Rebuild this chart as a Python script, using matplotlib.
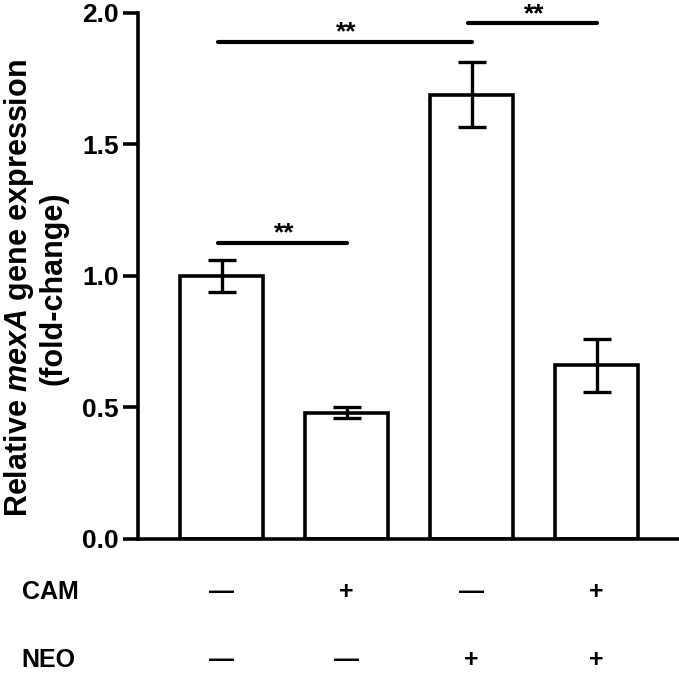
import matplotlib.pyplot as plt
import matplotlib.transforms as mtransforms

plt.rcParams['font.family'] = ['Liberation Sans', 'DejaVu Sans']
plt.rcParams['font.weight'] = 'bold'
plt.rcParams['mathtext.fontset'] = 'custom'
plt.rcParams['mathtext.rm'] = 'Liberation Sans:bold'
plt.rcParams['mathtext.bf'] = 'Liberation Sans:bold'
plt.rcParams['mathtext.it'] = 'Liberation Sans:italic:bold'

# data
means = [1.0, 0.48, 1.69, 0.66]
errs = [0.06, 0.02, 0.125, 0.10]
cam = ['—', '+', '—', '+']
neo = ['—', '—', '+', '+']
# significance bars: (left group, right group, height)
sig_pairs = [(0, 1, 1.125), (0, 2, 1.89), (2, 3, 1.96)]
sig_text = ['**', '**', '**']

x = list(range(len(means)))

fig = plt.figure(figsize=(6.79, 6.76), dpi=100)
ax = fig.add_axes([0.2032, 0.2027, 0.7968, 0.7781])

ax.bar(x, means, width=0.66, color='white', edgecolor='black', linewidth=2.6, zorder=2)
ax.errorbar(x, means, yerr=errs, fmt='none', ecolor='black', elinewidth=2.4,
            capsize=10, capthick=2.4, zorder=3)

for (a, b, h), t in zip(sig_pairs, sig_text):
    ax.plot([a - 0.03, b + 0.0], [h, h], color='black', lw=3,
            solid_capstyle='round', clip_on=False, zorder=3)
    ax.text((a + b) / 2, h - 0.01, t, ha='center', va='bottom',
            fontsize=19, fontweight='bold', clip_on=False)

ax.set_xlim(-0.67, 3.66)
ax.set_ylim(0, 2.0)
ax.set_yticks([0.0, 0.5, 1.0, 1.5, 2.0])
ax.set_yticklabels(['0.0', '0.5', '1.0', '1.5', '2.0'])
ax.set_xticks([])
ax.spines['top'].set_visible(False)
ax.spines['right'].set_visible(False)
ax.spines['left'].set_linewidth(2.6)
ax.spines['bottom'].set_linewidth(2.6)
ax.tick_params(axis='y', width=2.6, length=11, labelsize=19, pad=3)

ax.set_ylabel('Relative $\\mathit{mexA}$ gene expression\n(fold-change)', fontsize=22,
              fontweight='bold', linespacing=1.1)
ax.yaxis.set_label_coords(-0.129, 0.477)

trans = mtransforms.blended_transform_factory(ax.transData, fig.transFigure)
row_y = [1 - 592 / 676, 1 - 660 / 676]
for name, signs, yy in zip(['CAM', 'NEO'], [cam, neo], row_y):
    fig.text(0.032, yy, name, ha='left', va='center', fontsize=18, fontweight='bold')
    for xi, s in zip(x, signs):
        ax.text(xi, yy, s, transform=trans, ha='center', va='center',
                fontsize=18, fontweight='bold')

plt.savefig('out.png', dpi=100)
